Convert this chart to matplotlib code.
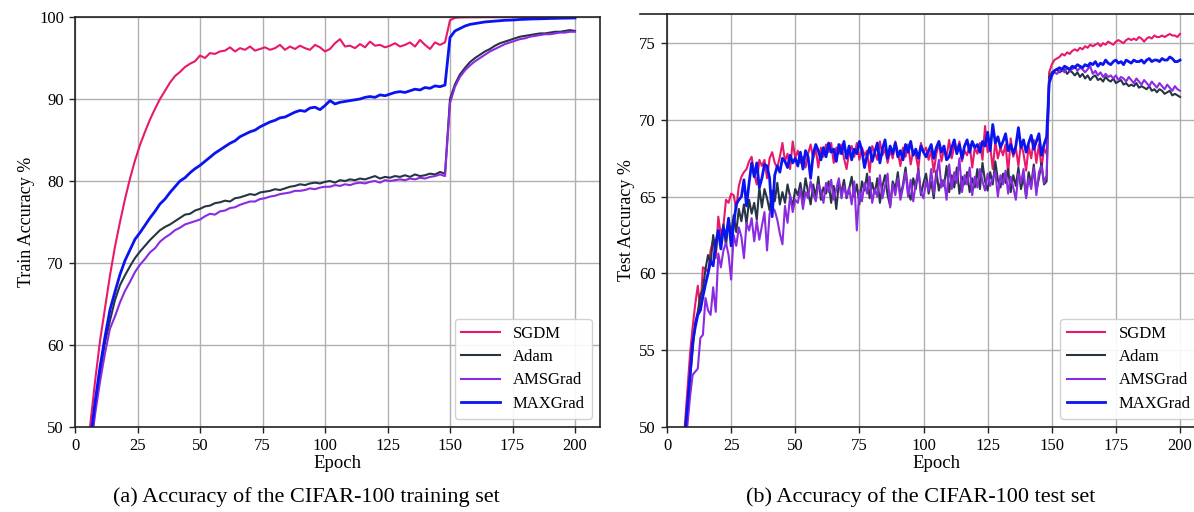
import numpy as np
import matplotlib
matplotlib.use("Agg")
import matplotlib.pyplot as plt
from matplotlib.lines import Line2D

plt.rcParams['font.family'] = ['Liberation Serif', 'DejaVu Serif']

names = ['SGDM', 'Adam', 'AMSGrad', 'MAXGrad']
colors = ['#e8196b', '#263445', '#8a2be2', '#0a14f0']
widths = [1.5, 1.5, 1.5, 2.0]

# ---- training accuracy, every 2 epochs (2, 4, ..., 200)
train_epochs = np.arange(2, 201, 2)

train_sgdm = [35, 43, 50, 55.5, 60.5, 64.5, 68.5, 72, 75, 77.8,
              80.3, 82.5, 84.4, 86, 87.5, 88.8, 90, 91, 92, 92.8,
              93.3, 93.9, 94.3, 94.6, 95.3, 95.0, 95.6, 95.5, 95.8, 95.9,
              96.3, 95.8, 96.2, 96.0, 96.4, 95.9, 96.1, 96.3, 96.0, 96.2,
              96.6, 96.0, 96.4, 96.1, 96.5, 96.2, 96.0, 96.6, 96.3, 95.8,
              96.1, 96.8, 97.3, 96.4, 96.5, 96.2, 96.7, 96.3, 97.0, 96.5,
              96.6, 96.3, 96.5, 96.8, 96.4, 96.6, 96.9, 96.4, 97.2, 96.6,
              96.1, 96.9, 96.6, 96.9, 99.6, 99.9, 99.95, 99.96, 99.97, 99.97,
              99.97, 99.98, 99.98, 99.98, 99.98, 99.98, 99.99, 99.99, 99.99, 99.99,
              99.99, 99.99, 99.99, 99.99, 99.99, 99.99, 99.99, 99.99, 99.99, 99.99]

train_maxgrad = [33, 42, 48, 53, 57.3, 61, 64.3, 66.5, 68.6, 70.3,
                 71.6, 72.9, 73.7, 74.6, 75.5, 76.3, 77.2, 77.8, 78.6, 79.3,
                 80.0, 80.4, 81.0, 81.5, 81.9, 82.4, 82.9, 83.4, 83.8, 84.2,
                 84.6, 84.9, 85.4, 85.7, 86.0, 86.2, 86.6, 86.9, 87.2, 87.4,
                 87.7, 87.8, 88.1, 88.4, 88.6, 88.5, 88.9, 89.0, 88.7, 89.2,
                 89.8, 89.4, 89.6, 89.7, 89.8, 89.9, 90.0, 90.2, 90.3, 90.2,
                 90.5, 90.4, 90.6, 90.8, 90.9, 90.8, 91.0, 91.2, 91.1, 91.4,
                 91.3, 91.6, 91.5, 91.7, 97.5, 98.3, 98.6, 98.9, 99.1, 99.2,
                 99.3, 99.4, 99.45, 99.5, 99.55, 99.6, 99.62, 99.65, 99.7, 99.72,
                 99.75, 99.77, 99.78, 99.8, 99.82, 99.83, 99.85, 99.86, 99.87, 99.88]

train_adam = [32, 41, 47, 52, 56.5, 60.3, 63, 65.5, 67.3, 68.5,
              69.6, 70.6, 71.4, 72.1, 72.8, 73.4, 74.0, 74.4, 74.7, 75.1,
              75.5, 75.9, 76.0, 76.4, 76.6, 76.9, 77.0, 77.3, 77.4, 77.6,
              77.5, 77.9, 78.0, 78.2, 78.4, 78.3, 78.6, 78.7, 78.8, 79.0,
              78.9, 79.1, 79.3, 79.4, 79.6, 79.5, 79.7, 79.8, 79.7, 79.9,
              80.0, 79.8, 80.1, 80.0, 80.2, 80.1, 80.3, 80.2, 80.4, 80.6,
              80.3, 80.5, 80.4, 80.6, 80.5, 80.7, 80.5, 80.8, 80.6, 80.7,
              80.9, 80.8, 81.1, 80.9, 90.0, 91.8, 93.0, 93.8, 94.5, 95.0,
              95.4, 95.8, 96.1, 96.5, 96.8, 97.0, 97.2, 97.4, 97.6, 97.7,
              97.8, 97.9, 98.0, 98.0, 98.1, 98.2, 98.2, 98.3, 98.4, 98.3]

train_amsgrad = [31, 40, 46.5, 51.5, 55.5, 59, 62, 63.5, 65.2, 66.6,
                 67.7, 68.9, 69.8, 70.5, 71.3, 71.8, 72.6, 73.1, 73.5, 74.0,
                 74.3, 74.7, 74.9, 75.1, 75.3, 75.7, 76.0, 75.9, 76.3, 76.4,
                 76.7, 76.8, 77.1, 77.3, 77.5, 77.5, 77.8, 77.9, 78.1, 78.2,
                 78.4, 78.5, 78.6, 78.8, 78.8, 78.9, 79.1, 79.0, 79.2, 79.3,
                 79.3, 79.5, 79.4, 79.6, 79.5, 79.7, 79.8, 79.7, 79.9, 80.0,
                 79.8, 80.1, 80.0, 80.1, 80.2, 80.1, 80.3, 80.2, 80.4, 80.3,
                 80.5, 80.6, 80.8, 80.6, 89.5, 91.5, 92.7, 93.5, 94.1, 94.6,
                 95.0, 95.4, 95.8, 96.1, 96.4, 96.7, 96.9, 97.1, 97.3, 97.4,
                 97.6, 97.7, 97.8, 97.9, 97.9, 98.0, 98.1, 98.1, 98.2, 98.2]

# ---- test accuracy, every epoch (1 ... 200)
test_epochs = np.arange(1, 201)

test_sgdm = [20, 30, 38, 43, 46, 48.5, 50.2, 52.5, 54.8, 56.5,
             58.0, 59.2, 57.6, 60.4, 60.3, 60.1, 61.5, 62.2, 61.0, 63.7,
             62.5, 63.1, 64.8, 64.6, 65.2, 65.1, 64.2, 65.7, 66.3, 66.6,
             66.8, 67.3, 67.6, 66.5, 65.8, 67.4, 67.0, 67.4, 66.2, 67.5,
             67.9, 67.2, 66.9, 67.6, 68.5, 67.3, 67.8, 66.8, 68.6, 67.5,
             68.0, 67.2, 67.6, 66.9, 67.8, 68.4, 67.5, 68.1, 66.9, 68.2,
             67.6, 68.4, 67.9, 68.5, 67.2, 68.2, 67.8, 68.4, 67.5, 66.8,
             67.9, 68.3, 67.6, 68.5, 67.4, 68.2, 67.7, 68.0, 66.6, 68.3,
             67.9, 67.4, 68.6, 67.7, 68.1, 67.2, 68.0, 67.5, 68.6, 67.9,
             67.0, 68.2, 67.6, 68.4, 67.1, 68.0, 67.7, 66.8, 68.5, 67.9,
             68.2, 67.4, 68.0, 66.6, 67.8, 68.5, 67.3, 68.1, 67.6, 68.7,
             67.5, 68.3, 67.9, 68.6, 67.3, 68.0, 67.7, 68.4, 66.9, 68.2,
             67.8, 68.5, 67.4, 69.6, 67.9, 68.3, 66.8, 68.6, 67.5, 68.2,
             67.7, 68.4, 66.5, 68.8, 67.6, 68.2, 67.0, 68.5, 67.8, 66.7,
             68.3, 67.5, 68.7, 67.2, 68.4, 66.9, 68.1, 67.8, 73.1, 73.6,
             73.9, 74.0, 74.1, 74.3, 74.2, 74.4, 74.3, 74.5, 74.6, 74.5,
             74.7, 74.6, 74.8, 74.7, 74.9, 74.8, 74.9, 75.0, 74.8, 75.0,
             74.9, 75.1, 75.0, 74.9, 75.1, 75.2, 75.1, 75.0, 75.2, 75.3,
             75.2, 75.3, 75.2, 75.4, 75.3, 75.1, 75.3, 75.4, 75.3, 75.5,
             75.4, 75.4, 75.5, 75.4, 75.5, 75.6, 75.5, 75.5, 75.4, 75.6]

test_maxgrad = [18, 28, 36, 42, 45.5, 48, 49.5, 51.5, 53.4, 55.5,
                56.5, 57.3, 57.6, 58.5, 59.3, 60.0, 60.8, 60.5, 62.0, 62.8,
                61.6, 63.0, 62.3, 63.6, 61.8, 63.2, 64.5, 64.8, 65.0, 66.1,
                64.4, 65.9, 67.2, 66.3, 67.2, 65.6, 66.2, 67.1, 67.0, 66.2,
                63.7, 66.4, 67.0, 66.6, 67.5, 67.3, 66.9, 67.7, 67.2, 67.5,
                67.0, 67.9, 66.8, 68.0, 67.6, 66.2, 67.8, 68.4, 68.0, 67.4,
                68.2, 67.6, 68.5, 67.9, 68.1, 67.3, 68.4, 67.8, 68.6, 67.5,
                68.3, 67.4, 68.1, 67.8, 68.6, 68.0, 66.9, 67.7, 68.2, 67.3,
                67.9, 68.5, 67.2, 68.1, 68.7, 67.5, 68.3, 67.8, 68.5, 67.6,
                68.0, 67.4, 68.4, 67.9, 68.6, 67.7, 68.1, 67.5, 68.3, 67.9,
                67.6, 68.0, 68.4, 67.5, 68.2, 68.6, 67.9, 68.3, 67.4, 67.6,
                68.2, 68.7, 67.8, 68.4, 67.5, 68.3, 68.7, 67.9, 68.6, 68.2,
                68.4, 67.9, 68.6, 68.3, 69.2, 68.0, 69.7, 68.5, 68.9, 68.2,
                68.6, 69.1, 68.0, 68.4, 67.8, 68.3, 69.5, 68.2, 68.7, 67.9,
                68.5, 69.0, 68.1, 68.6, 69.1, 67.7, 68.4, 68.9, 72.4, 72.9,
                73.2, 73.3, 73.4, 73.3, 73.5, 73.4, 73.3, 73.5, 73.4, 73.6,
                73.5, 73.4, 73.6, 73.5, 73.7, 73.6, 73.8, 73.5, 73.7, 73.6,
                73.9, 73.7, 73.6, 73.8, 73.9, 73.7, 73.8, 73.6, 73.9, 73.8,
                73.7, 73.9, 73.8, 73.8, 73.9, 73.7, 73.9, 74.0, 73.8, 73.9,
                73.9, 73.8, 74.0, 73.9, 73.9, 74.1, 74.0, 73.8, 73.8, 73.9]

test_adam = [15, 25, 34, 40, 44, 47, 49, 51, 53.2, 55,
             56.8, 57.5, 58.6, 59.0, 60.3, 61.2, 60.6, 62.5, 61.4, 62.8,
             62.0, 63.2, 61.8, 63.5, 62.6, 63.8, 62.7, 64.2, 63.4, 64.5,
             63.2, 64.8, 63.9, 64.6, 63.5, 65.6, 64.3, 65.5, 64.9, 64.1,
             65.4, 64.7, 65.9, 64.5, 65.3, 64.6, 65.8, 65.0, 64.4, 65.5,
             65.1, 65.9, 64.8, 66.2, 65.3, 64.5, 65.8, 65.0, 66.3, 64.8,
             65.6, 65.2, 66.0, 64.6, 65.7, 64.2, 65.9, 65.3, 66.1, 64.9,
             65.5, 66.3, 65.0, 65.8, 64.5, 66.0, 65.4, 66.5, 64.9, 65.9,
             65.2, 66.2, 64.6, 65.7, 66.4, 65.1, 64.4, 66.0, 65.5, 66.6,
             65.0, 65.8, 66.9, 65.3, 64.8, 66.2, 65.5, 66.8, 65.1, 65.9,
             66.5, 65.2, 66.0, 64.9, 66.7, 65.4, 66.1, 65.7, 67.0, 65.3,
             66.4, 65.6, 66.9, 65.2, 66.3, 65.8, 66.6, 65.3, 66.2, 65.6,
             66.8, 65.5, 67.2, 66.0, 65.4, 66.6, 65.8, 67.3, 66.1, 65.6,
             66.5, 65.9, 66.8, 65.3, 66.4, 65.7, 66.9, 65.5, 66.3, 65.0,
             66.6, 65.8, 67.1, 65.4, 66.2, 67.2, 65.8, 66.0, 72.8, 73.1,
             73.2, 73.3, 73.1, 73.2, 73.3, 73.0, 73.2, 73.1, 72.9, 73.1,
             72.8, 73.0, 72.7, 72.9, 72.6, 72.8, 72.9, 72.6, 72.7, 72.5,
             72.8, 72.6, 72.5, 72.7, 72.4, 72.5, 72.6, 72.3, 72.4, 72.2,
             72.3, 72.2, 72.4, 72.1, 72.2, 72.1, 72.0, 72.2, 71.9, 72.0,
             71.8, 72.0, 71.9, 71.7, 71.8, 71.9, 71.6, 71.7, 71.6, 71.5]

test_amsgrad = [14, 24, 33, 39, 43, 46, 48.5, 50.2, 52, 53.4,
                53.6, 53.8, 55.8, 56.0, 58.4, 57.6, 57.3, 59.1, 57.5, 61.3,
                60.4, 61.5, 62.0, 61.2, 59.6, 62.5, 61.8, 63.0, 62.4, 61.0,
                63.3, 62.8, 63.6, 62.1, 63.4, 62.2, 63.1, 64.0, 61.5, 63.9,
                64.3, 64.1, 63.5, 62.6, 61.9, 64.4, 63.3, 65.1, 64.0, 64.8,
                64.6, 65.5, 64.2, 65.3, 64.9, 66.0, 65.2, 64.7, 65.8, 65.4,
                64.6, 65.9, 65.3, 66.1, 64.8, 65.5, 66.2, 64.9, 65.7, 65.0,
                65.6, 64.5, 66.0, 62.8, 65.4, 64.7, 65.9, 65.2, 66.3, 64.6,
                65.5, 65.0, 66.4, 64.9, 65.7, 66.5, 64.3, 65.8, 65.1, 66.2,
                64.8, 65.6, 66.6, 65.0, 66.1, 64.7, 65.9, 66.7, 65.3, 64.9,
                66.0, 65.4, 66.8, 65.2, 66.3, 67.4, 65.6, 66.1, 64.8, 67.1,
                65.5, 66.6, 65.9, 67.5, 65.3, 66.4, 65.8, 66.9, 65.1, 66.3,
                65.6, 66.8, 66.0, 65.4, 66.5, 65.7, 66.2, 66.6, 65.0, 66.4,
                65.8, 66.7, 65.2, 66.3, 65.6, 64.8, 66.5, 65.9, 66.8, 64.9,
                66.2, 65.5, 66.9, 65.1, 66.6, 67.0, 65.9, 66.4, 72.6, 73.0,
                73.1, 73.0, 73.2, 73.3, 73.1, 73.4, 73.2, 73.3, 73.5, 73.2,
                73.4, 73.3, 73.1, 73.3, 73.5, 73.0, 73.2, 72.9, 73.1, 72.8,
                73.0, 72.8, 72.9, 72.7, 72.9, 72.6, 72.8, 72.7, 72.5, 72.8,
                72.6, 72.4, 72.7, 72.5, 72.3, 72.6, 72.4, 72.2, 72.5, 72.3,
                72.1, 72.4, 72.2, 72.0, 72.3, 72.1, 71.9, 72.2, 72.0, 71.9]

train_series = [train_sgdm, train_adam, train_amsgrad, train_maxgrad]
test_series = [test_sgdm, test_adam, test_amsgrad, test_maxgrad]

W, H = 1194, 512
fig = plt.figure(figsize=(W / 100, H / 100), dpi=100)

# axes placed in pixel terms of the reference
ax1 = fig.add_axes([75 / W, (H - 427) / H, (600 - 75) / W, (427 - 17) / H])
ax2 = fig.add_axes([667 / W, (H - 427) / H, 210 * 2.565 / W, (427 - 14) / H])


def style(ax, ylim, yticks, ylabel):
    ax.set_xlim(0, 210)
    ax.set_ylim(*ylim)
    ax.set_xticks(range(0, 201, 25))
    ax.set_yticks(yticks)
    ax.grid(True, color='#b0b0b0', linewidth=1.0)
    ax.set_axisbelow(True)
    for s in ax.spines.values():
        s.set_color('#222222')
        s.set_linewidth(1.2)
    ax.tick_params(labelsize=12, length=4, width=1, color='#222222', pad=4)
    ax.set_xlabel('Epoch', fontsize=13.5, labelpad=1)
    ax.set_ylabel(ylabel, fontsize=13, labelpad=3)
    ax.legend(loc='lower right', fontsize=12, handlelength=2.3,
              labelspacing=0.45, edgecolor='#cccccc', framealpha=0.9)


for name, c, lw, ys in zip(names, colors, widths, train_series):
    ax1.plot(train_epochs, ys, color=c, lw=lw, label=name)
style(ax1, (50, 100), range(50, 101, 10), 'Train Accuracy %')

for name, c, lw, ys in zip(names, colors, widths, test_series):
    ax2.plot(test_epochs, ys, color=c, lw=lw, label=name)
style(ax2, (50, 76.9), range(50, 76, 5), 'Test Accuracy %')

# stray top rule left of the second panel, as in the source figure
fig.add_artist(Line2D([640 / W, 667 / W], [(H - 14) / H] * 2,
                      color='#222222', lw=1.2))

fig.text(306 / W, 1 - 497 / H, '(a) Accuracy of the CIFAR-100 training set',
         ha='center', va='center', fontsize=16)
fig.text(921 / W, 1 - 497 / H, '(b) Accuracy of the CIFAR-100 test set',
         ha='center', va='center', fontsize=16)

fig.savefig('out.png', dpi=100)
